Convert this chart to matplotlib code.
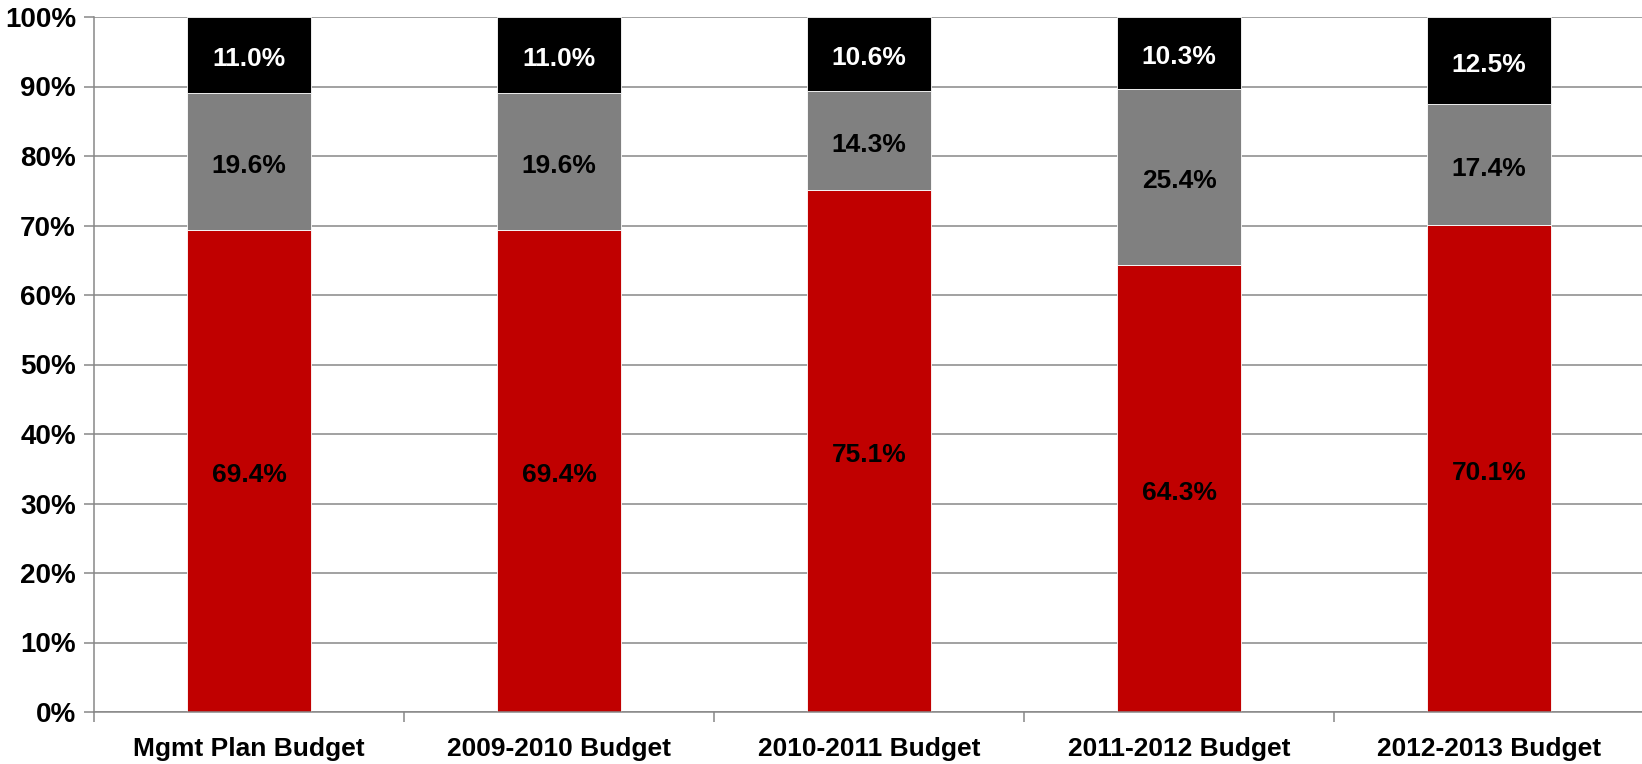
import numpy as np
import matplotlib.pyplot as plt
from matplotlib.ticker import FixedLocator

plt.rcParams['font.family'] = ['Liberation Sans', 'DejaVu Sans']

categories = ['Mgmt Plan Budget', '2009-2010 Budget', '2010-2011 Budget',
              '2011-2012 Budget', '2012-2013 Budget']
red_vals = [69.4, 69.4, 75.1, 64.3, 70.1]
gray_vals = [19.6, 19.6, 14.3, 25.4, 17.4]
black_vals = [11.0, 11.0, 10.6, 10.3, 12.5]

fig = plt.figure(figsize=(16.42, 7.64), dpi=100)
ax = fig.add_axes([94 / 1642, 52 / 764, 1550 / 1642, 695 / 764])

x = np.arange(len(categories))
w = 0.403
grid_c = '#878787'

ax.set_axisbelow(True)
ax.yaxis.grid(True, color=grid_c, linewidth=1.1)

stacks = [(red_vals, '#C00000', 'black'),
          (gray_vals, '#808080', 'black'),
          (black_vals, '#000000', 'white')]
bottom = np.zeros(len(categories))
for vals, col, tcol in stacks:
    vals = np.array(vals)
    ax.bar(x, vals, w, bottom=bottom, color=col, edgecolor='white', linewidth=0.6)
    for xi, b, v in zip(x, bottom, vals):
        ax.annotate(f'{v:.1f}%', (xi, b + v / 2), xytext=(0, -3),
                    textcoords='offset points', ha='center', va='center',
                    color=tcol, fontsize=19, fontweight='bold')
    bottom = bottom + vals

ax.set_xlim(-0.5, 4.5)
ax.set_ylim(0, 100)
ax.set_yticks(np.arange(0, 101, 10))
ax.set_yticklabels([f'{v}%' for v in range(0, 101, 10)], fontsize=20, fontweight='bold')
ax.set_xticks(x)
ax.set_xticklabels(categories, fontsize=19, fontweight='bold')
ax.tick_params(axis='x', length=0, pad=18)
ax.xaxis.set_minor_locator(FixedLocator(np.arange(-0.5, 4.6, 1)))
ax.tick_params(axis='x', which='minor', length=7, color=grid_c, width=1.1)
ax.tick_params(axis='y', length=7, color=grid_c, width=1.1, pad=6)

for s in ['top', 'right']:
    ax.spines[s].set_visible(False)
for s in ['left', 'bottom']:
    ax.spines[s].set_color(grid_c)
    ax.spines[s].set_linewidth(1.1)

fig.savefig('out.png', dpi=100)
